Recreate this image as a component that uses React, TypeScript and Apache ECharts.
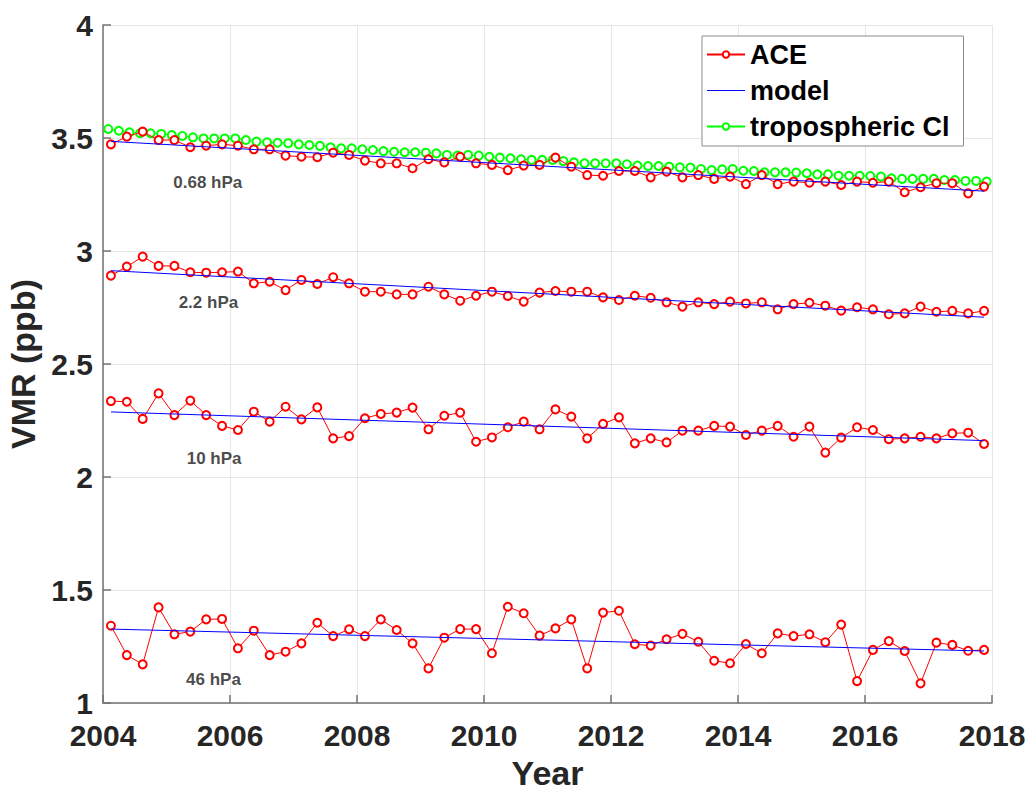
import React, { useEffect, useRef } from "react";
import * as echarts from "echarts";

// ACE sampling: quarterly from 2004.125 to 2017.875 (56 samples)
const aceYears: number[] = Array.from({ length: 56 }, (_, i) => 2004.125 + i * 0.25);
// tropospheric Cl sampling: bimonthly (84 samples)
const tropoYears: number[] = Array.from({ length: 84 }, (_, i) => 2004 + (i + 0.5) / 6);

const ace068 = [
  3.472, 3.506, 3.528, 3.491, 3.491, 3.459, 3.466, 3.472, 3.466, 3.45, 3.45, 3.422, 3.417, 3.415, 3.435, 3.425, 3.4, 3.388, 3.388, 3.366,
  3.406, 3.392, 3.417, 3.388, 3.381, 3.358, 3.378, 3.381, 3.413, 3.373, 3.336, 3.333, 3.354, 3.354, 3.326, 3.351, 3.326, 3.336, 3.319,
  3.329, 3.296, 3.336, 3.296, 3.307, 3.302, 3.307, 3.292, 3.307, 3.302, 3.307, 3.26, 3.282, 3.3, 3.3, 3.255, 3.285,
];
const ace22 = [
  2.891, 2.931, 2.975, 2.934, 2.934, 2.906, 2.904, 2.906, 2.909, 2.857, 2.864, 2.827, 2.872, 2.854, 2.884, 2.857, 2.82, 2.82, 2.808, 2.808,
  2.842, 2.808, 2.78, 2.802, 2.82, 2.801, 2.776, 2.816, 2.823, 2.82, 2.82, 2.795, 2.783, 2.802, 2.793, 2.773, 2.754, 2.773, 2.765,
  2.776, 2.768, 2.773, 2.742, 2.765, 2.771, 2.758, 2.736, 2.751, 2.742, 2.72, 2.724, 2.754, 2.731, 2.735, 2.724, 2.735,
];
const ace10 = [
  2.336, 2.333, 2.257, 2.37, 2.274, 2.338, 2.274, 2.226, 2.208, 2.289, 2.245, 2.311, 2.255, 2.308, 2.171, 2.181, 2.26, 2.279, 2.285, 2.307,
  2.211, 2.271, 2.285, 2.156, 2.175, 2.22, 2.245, 2.211, 2.299, 2.267, 2.171, 2.235, 2.264, 2.149, 2.171, 2.153, 2.205, 2.205, 2.226,
  2.223, 2.186, 2.205, 2.226, 2.178, 2.223, 2.108, 2.174, 2.22, 2.208, 2.167, 2.171, 2.178, 2.171, 2.193, 2.196, 2.146,
];
const ace46 = [
  1.342, 1.212, 1.171, 1.423, 1.304, 1.316, 1.37, 1.372, 1.242, 1.32, 1.212, 1.227, 1.264, 1.355, 1.296, 1.326, 1.296, 1.37,
  1.323, 1.264, 1.153, 1.289, 1.327, 1.327, 1.22, 1.426, 1.397, 1.298, 1.33, 1.37, 1.153, 1.4, 1.408, 1.26, 1.254, 1.282, 1.306, 1.271,
  1.187, 1.176, 1.261, 1.22, 1.308, 1.296, 1.304, 1.269, 1.347, 1.097, 1.235, 1.274, 1.23, 1.087, 1.267, 1.257, 1.231, 1.235,
];
const tropoCl = [
  3.54, 3.532, 3.525, 3.521, 3.521, 3.518, 3.513, 3.509, 3.503, 3.498, 3.498, 3.498, 3.498, 3.491, 3.484, 3.481, 3.479, 3.477, 3.472, 3.469,
  3.465, 3.459, 3.454, 3.454, 3.45, 3.447, 3.442, 3.439, 3.437, 3.437,
  3.435, 3.432, 3.425, 3.422, 3.425, 3.422, 3.417, 3.413, 3.41, 3.406, 3.403, 3.403, 3.403, 3.398, 3.392, 3.388, 3.388, 3.388, 3.388, 3.384,
  3.378, 3.376, 3.376, 3.373, 3.37, 3.369, 3.363,
  3.358, 3.361, 3.363, 3.355, 3.354, 3.348, 3.348, 3.348, 3.347, 3.344, 3.339, 3.339, 3.333, 3.333, 3.333, 3.332, 3.329, 3.322, 3.319, 3.319,
  3.319, 3.319, 3.314, 3.314, 3.31, 3.31, 3.307,
];
// model trend lines: [start, end] at first and last ACE sample
const modelYears = [2004.125, 2017.875];
const model068 = [3.485, 3.265];
const model22 = [2.913, 2.707];
const model10 = [2.288, 2.161];
const model46 = [1.327, 1.23];

const levelNames = ["0.68 hPa", "2.2 hPa", "10 hPa", "46 hPa"];
const levelLabelX = [2005.65, 2005.66, 2005.75, 2005.74];
const levelLabelY = [3.302, 2.771, 2.084, 1.102];

const xTicks = [2004, 2006, 2008, 2010, 2012, 2014, 2016, 2018];

const FONT = "'Liberation Sans', Arial, Helvetica, sans-serif";

export default function App() {
  const ref = useRef<HTMLDivElement>(null);
  useEffect(() => {
    if (!ref.current) return;
    document.body.style.margin = "0";
    const chart = echarts.init(ref.current, undefined, { renderer: "svg" });
    const pair = (xs: number[], ys: number[]) => ys.map((y, i) => [xs[i], y]);
    const aceSeries = [ace068, ace22, ace10, ace46].map((d) => ({
      type: "line",
      name: "ACE",
      data: pair(aceYears, d),
      symbol: "emptyCircle",
      symbolSize: 8,
      lineStyle: { color: "#ff0000", width: 1 },
      itemStyle: { color: "#ff0000", borderWidth: 1 },
      z: 3,
    }));
    const modelSeries = [model068, model22, model10, model46].map((d) => ({
      type: "line",
      name: "model",
      data: pair(modelYears, d),
      symbol: "none",
      lineStyle: { color: "#0000ff", width: 1 },
      itemStyle: { color: "#0000ff" },
      z: 4,
    }));
    const axisColor = "#737373";
    chart.setOption({
      animation: false,
      backgroundColor: "#ffffff",
      grid: { left: 103, right: 35, top: 25, bottom: 88, containLabel: false, outerBoundsMode: "none" },
      xAxis: {
        type: "value",
        min: 2004,
        max: 2018,
        interval: 2,
        name: "Year",
        nameLocation: "middle",
        nameGap: 53,
        nameTextStyle: { fontFamily: FONT, fontWeight: "bold", fontSize: 34, color: "#262626" },
        axisLine: { lineStyle: { color: axisColor, width: 1.5 } },
        axisTick: { show: true, inside: true, length: 8, lineStyle: { color: axisColor, width: 1.5 } },
        axisLabel: {
          margin: 17,
          fontFamily: FONT,
          fontWeight: "bold",
          fontSize: 30,
          color: "#262626",
          formatter: (v: number) => (xTicks.includes(v) ? String(v) : ""),
        },
        splitLine: { show: true, lineStyle: { color: "#e6e6e6", width: 1 } },
      },
      yAxis: {
        type: "value",
        min: 1,
        max: 4,
        interval: 0.5,
        name: "VMR (ppb)",
        nameLocation: "middle",
        nameGap: 60,
        nameTextStyle: { fontFamily: FONT, fontWeight: "bold", fontSize: 34, color: "#262626" },
        axisLine: { show: true, lineStyle: { color: axisColor, width: 1.5 } },
        axisTick: { show: true, inside: true, length: 8, lineStyle: { color: axisColor, width: 1.5 } },
        axisLabel: { margin: 10, fontFamily: FONT, fontWeight: "bold", fontSize: 30, color: "#262626" },
        splitLine: { show: true, lineStyle: { color: "#e6e6e6", width: 1 } },
      },
      legend: {
        orient: "vertical",
        left: 702,
        top: 36,
        data: [
          { name: "ACE" },
          { name: "model", icon: "path://M0 0 H38 V1 H0 Z" },
          { name: "tropospheric Cl" },
        ],
        backgroundColor: "#ffffff",
        borderColor: "#8c8c8c",
        borderWidth: 1,
        padding: [5, 14, 6, 4],
        itemGap: 9,
        itemWidth: 38,
        itemHeight: 8,
        textStyle: { fontFamily: FONT, fontWeight: "bold", fontSize: 27, color: "#000000" },
      },
      series: [
        ...aceSeries,
        ...modelSeries,
        {
          type: "line",
          name: "tropospheric Cl",
          data: pair(tropoYears, tropoCl),
          symbol: "emptyCircle",
          symbolSize: 8,
          lineStyle: { color: "#00ff00", width: 1 },
          itemStyle: { color: "#00ff00", borderWidth: 1 },
          z: 2,
        },
        {
          type: "scatter",
          name: "levels",
          silent: true,
          symbolSize: 1,
          itemStyle: { color: "rgba(0,0,0,0)" },
          data: levelNames.map((n, i) => [levelLabelX[i], levelLabelY[i], n]),
          label: {
            show: true,
            position: "inside",
            formatter: (p: any) => p.data[2],
            fontFamily: FONT,
            fontWeight: "bold",
            fontSize: 17,
            color: "#1a1a1a",
          },
          z: 5,
        },
      ],
    });
    return () => chart.dispose();
  }, []);
  return (
    <div
      ref={ref}
      style={{ position: "relative", width: 1027, height: 791, background: "#fff", overflow: "hidden" }}
    />
  );
}
